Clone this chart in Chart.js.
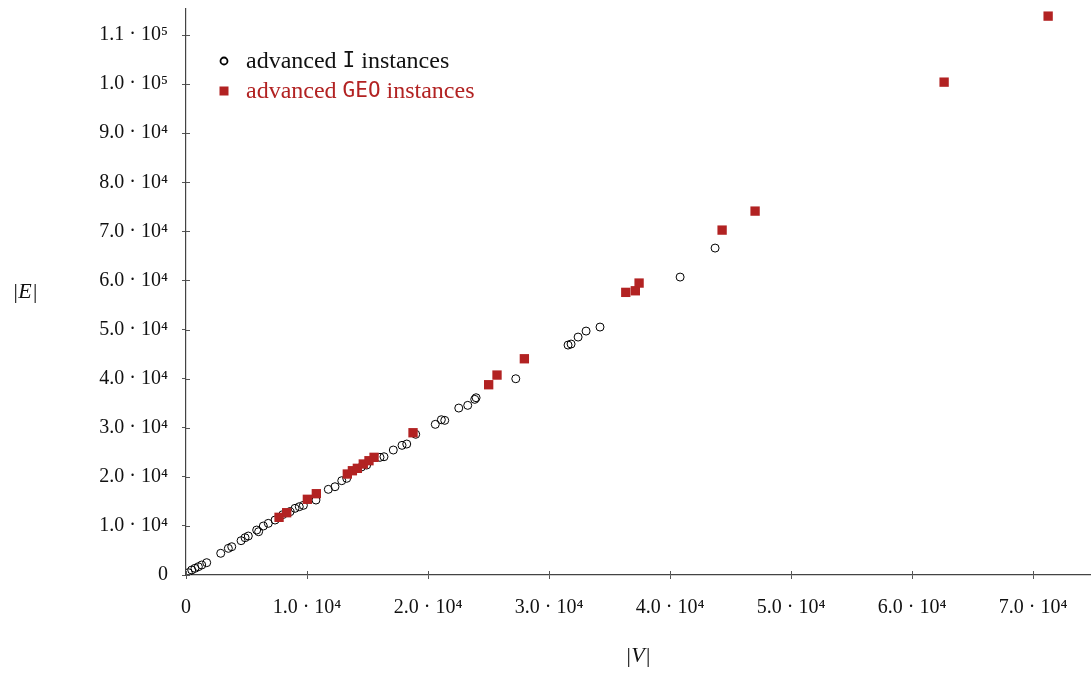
<!DOCTYPE html>
<html>
<head>
<meta charset="utf-8">
<script src="https://cdn.jsdelivr.net/npm/chart.js@4/dist/chart.umd.min.js"></script>
<style>
  html, body { margin: 0; padding: 0; background: #fff; }
  #wrap { width: 1091px; height: 673px; position: relative; }
</style>
</head>
<body>
<div id="wrap"><canvas id="scatter"></canvas></div>
<script>
// advanced I instances: [|V|, |E|]
const iVertices = [190, 470, 740, 1020, 1300, 1710, 2870, 3500, 3780, 4550, 4880, 5150, 5840, 6000, 6390, 6800, 7360, 8000, 8600, 9010, 9360, 9700, 10740, 11760, 12310, 12870, 13280, 14500, 14930, 16030, 16360, 17130, 17850, 18240, 18980, 20600, 21100, 21380, 22540, 23280, 23860, 23970, 27250, 31570, 31820, 32400, 33060, 34210, 40830, 43720];
const iEdges = [470, 1020, 1360, 1690, 2040, 2510, 4420, 5430, 5760, 6990, 7600, 7940, 9160, 8820, 9980, 10520, 11200, 12300, 12900, 13580, 13910, 14190, 15270, 17450, 17980, 19210, 19690, 22000, 22400, 23970, 24090, 25460, 26410, 26680, 28660, 30690, 31630, 31500, 34010, 34560, 35780, 36110, 39980, 46840, 47050, 48470, 49690, 50510, 60690, 66600];

// advanced GEO instances
const geoVertices = [7690, 8320, 10030, 10770, 13330, 13750, 14160, 14650, 15120, 15540, 18760, 25010, 25700, 27960, 36340, 37130, 37440, 44300, 47025, 62645, 71240];
const geoEdges = [11750, 12690, 15420, 16560, 20570, 21240, 21730, 22610, 23280, 23970, 28980, 38760, 40730, 44050, 57575, 57900, 59470, 70260, 74130, 100400, 113850];

const xTicks = [0, 10000, 20000, 30000, 40000, 50000, 60000, 70000];
const yTicks = [0, 10000, 20000, 30000, 40000, 50000, 60000, 70000, 80000, 90000, 100000, 110000];
const xMax = 74700;
const yMax = 115300;
const legendNames = [["advanced ", "I", " instances"], ["advanced ", "GEO", " instances"]];

const red = "#b22222";
const serif = "'Liberation Serif', 'DejaVu Serif', serif";
const mono = "'DejaVu Sans Mono', 'Liberation Mono', monospace";
const sup = { "0": "⁰", "1": "¹", "2": "²", "3": "³", "4": "⁴", "5": "⁵", "6": "⁶", "7": "⁷", "8": "⁸", "9": "⁹" };

function sciLabel(v) {
  if (v === 0) return "0";
  const e = Math.floor(Math.log10(v) + 1e-9);
  const m = v / Math.pow(10, e);
  return m.toFixed(1) + " · 10" + String(e).split("").map(c => sup[c]).join("");
}

const toPoints = (xs, ys) => xs.map((x, i) => ({ x: x, y: ys[i] }));

// keep the plot area where the reference has it
function noPad(s) {
  s.paddingTop = 0; s.paddingBottom = 0; s.paddingLeft = 0; s.paddingRight = 0;
}

// ticks crossing the axis line, y title, legend with mixed fonts
const decor = {
  id: "decor",
  afterDraw(chart) {
    const ctx = chart.ctx;
    const a = chart.chartArea;
    const xs = chart.scales.x, ys = chart.scales.y;
    ctx.save();
    ctx.strokeStyle = "#555";
    ctx.lineWidth = 1;
    xs.ticks.forEach(t => {
      const px = Math.round(xs.getPixelForValue(t.value)) + 0.5;
      ctx.beginPath(); ctx.moveTo(px, a.bottom); ctx.lineTo(px, a.bottom - 4); ctx.stroke();
    });
    ys.ticks.forEach(t => {
      const py = Math.round(ys.getPixelForValue(t.value)) + 0.5;
      ctx.beginPath(); ctx.moveTo(a.left, py); ctx.lineTo(a.left + 4, py); ctx.stroke();
    });

    ctx.fillStyle = "#111";
    ctx.font = "italic 22px " + serif;
    ctx.textAlign = "center";
    ctx.textBaseline = "middle";
    ctx.fillText("|E|", 25, (a.top + a.bottom) / 2);

    // legend
    const lx = a.left + 38, ly = a.top + 52;
    legendNames.forEach((parts, i) => {
      const cy = ly + i * 30;
      if (i === 0) {
        ctx.beginPath(); ctx.arc(lx, cy, 3.5, 0, Math.PI * 2);
        ctx.lineWidth = 1.8; ctx.strokeStyle = "#000"; ctx.stroke();
      } else {
        ctx.fillStyle = red; ctx.fillRect(lx - 4.5, cy - 4.5, 9, 9);
      }
      ctx.fillStyle = i === 0 ? "#111" : red;
      ctx.textAlign = "left";
      ctx.textBaseline = "middle";
      let tx = lx + 22;
      parts.forEach((p, j) => {
        ctx.font = (j === 1 ? "21px " + mono : "24px " + serif);
        ctx.fillText(p, tx, cy + 1);
        tx += ctx.measureText(p).width;
      });
    });
    ctx.restore();
  }
};

new Chart(document.getElementById("scatter"), {
  type: "scatter",
  data: {
    datasets: [
      {
        label: "advanced GEO instances",
        data: toPoints(geoVertices, geoEdges),
        pointStyle: "rect",
        pointRadius: 6.6,
        backgroundColor: red,
        borderColor: red,
        borderWidth: 0,
        order: 0,
      },
      {
        label: "advanced I instances",
        data: toPoints(iVertices, iEdges),
        pointStyle: "circle",
        pointRadius: 4,
        backgroundColor: "rgba(0,0,0,0)",
        borderColor: "#000",
        borderWidth: 1,
        order: 1,
      },
    ],
  },
  options: {
    responsive: true,
    maintainAspectRatio: false,
    animation: false,
    layout: { autoPadding: false, padding: { top: 9, right: 1, left: 0, bottom: 0 } },
    plugins: {
      legend: { display: false },
      tooltip: { enabled: false },
    },
    scales: {
      x: {
        type: "linear",
        min: 0,
        max: xMax,
        afterBuildTicks: s => { s.ticks = xTicks.map(v => ({ value: v })); },
        afterFit: s => { s.height = 98; noPad(s); },
        border: { color: "#444", width: 1.2 },
        grid: { drawOnChartArea: false, tickLength: 4, color: "#555" },
        ticks: {
          maxRotation: 0,
          autoSkip: false,
          padding: 17,
          color: "#111",
          font: { family: serif, size: 20 },
          callback: v => sciLabel(v),
        },
        title: {
          display: true,
          text: "|V|",
          color: "#111",
          font: { family: serif, size: 22, style: "italic" },
          padding: { top: 0, bottom: 4 },
        },
      },
      y: {
        type: "linear",
        min: 0,
        max: yMax,
        afterBuildTicks: s => { s.ticks = yTicks.map(v => ({ value: v })); },
        afterFit: s => { s.width = 186; noPad(s); },
        border: { color: "#444", width: 1.2 },
        grid: { drawOnChartArea: false, tickLength: 4, color: "#555" },
        ticks: {
          autoSkip: false,
          padding: 14,
          color: "#111",
          font: { family: serif, size: 20 },
          callback: v => sciLabel(v),
        },
      },
    },
  },
  plugins: [decor],
});
</script>
</body>
</html>
